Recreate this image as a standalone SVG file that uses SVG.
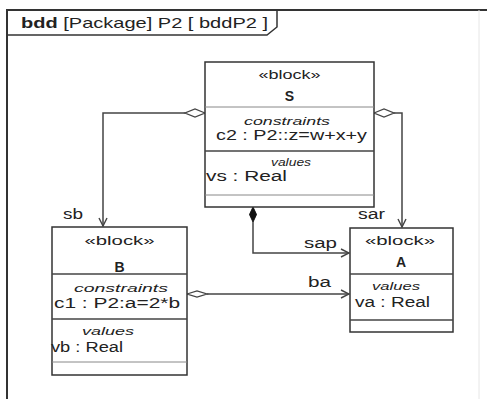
<svg xmlns="http://www.w3.org/2000/svg" width="487" height="399" viewBox="0 0 487 399">
<style>
text{font-family:"Liberation Sans",Arial,sans-serif;fill:#222}
.box{fill:#fff;stroke:#333;stroke-width:1.5}
.sep{stroke:#444;stroke-width:1.3}
.sep2{stroke:#888;stroke-width:1}
.st{font-size:13px;text-anchor:middle}
.nm{font-size:14px;font-weight:bold;text-anchor:middle}
.ct{font-size:11px;font-style:italic;text-anchor:middle}
.pr{font-size:14px}
.lbl{font-size:14px}
.con{fill:none;stroke:#444;stroke-width:1.5}
.hd{fill:#fff;stroke:#444;stroke-width:1.3}
</style>
<defs>
<marker id="open" markerWidth="10" markerHeight="10" refX="9" refY="5" orient="auto" markerUnits="userSpaceOnUse">
<path d="M1,1 L9,5 L1,9" fill="none" stroke="#444" stroke-width="1.4"/>
</marker>
</defs>
<rect width="487" height="399" fill="#fff"/>
<g id="frame">
<path d="M487,10 L7,10 L7,399" fill="none" stroke="#333" stroke-width="2"/>
<path d="M479,10 L479,399" fill="none" stroke="#e6e6e6" stroke-width="1"/>
<path d="M7,35 L267,35 L277,27 L277,10" fill="none" stroke="#333" stroke-width="1.5"/>
<text x="21" y="28" font-size="15" textLength="247" lengthAdjust="spacingAndGlyphs"><tspan font-weight="bold">bdd</tspan> [Package] P2 [ bddP2 ]</text>
</g>
<g id="connectors">
<path class="con" d="M185,113 L103,113 L103,226" marker-end="url(#open)"/>
<path class="con" d="M394,113 L402,113 L402,227" marker-end="url(#open)"/>
<path class="con" d="M253,222 L253,253 L349,253" marker-end="url(#open)"/>
<path class="con" d="M207,294 L349,294" marker-end="url(#open)"/>
<path class="hd" d="M205,113 L195,109 L185,113 L195,117 Z"/>
<path class="hd" d="M374,113 L384,109 L394,113 L384,117 Z"/>
<path class="hd" d="M187,294 L197,291 L207,294 L197,297 Z"/>
<path d="M253,207 L256.5,214.5 L253,222 L249.5,214.5 Z" fill="#111" stroke="#111" stroke-width="1"/>
<text class="lbl" x="63" y="219" textLength="20" lengthAdjust="spacingAndGlyphs">sb</text>
<text class="lbl" x="358" y="219" textLength="27" lengthAdjust="spacingAndGlyphs">sar</text>
<text class="lbl" x="304" y="248" textLength="33" lengthAdjust="spacingAndGlyphs">sap</text>
<text class="lbl" x="308" y="287" textLength="23" lengthAdjust="spacingAndGlyphs">ba</text>
</g>
<g id="S">
<rect class="box" x="205" y="62" width="169" height="145"/>
<line class="sep2" x1="205" y1="107" x2="374" y2="107"/>
<line class="sep" x1="205" y1="151" x2="374" y2="151"/>
<line class="sep2" x1="205" y1="195" x2="374" y2="195"/>
<text class="st" x="289.5" y="79" textLength="62" lengthAdjust="spacingAndGlyphs">«block»</text>
<text class="nm" x="289.5" y="101">S</text>
<text class="ct" x="287" y="125" textLength="86" lengthAdjust="spacingAndGlyphs">constraints</text>
<text class="pr" x="216" y="140" font-size="13" textLength="151" lengthAdjust="spacingAndGlyphs">c2 : P2::z=w+x+y</text>
<text class="ct" x="291" y="166" textLength="40" lengthAdjust="spacingAndGlyphs">values</text>
<text class="pr" x="206" y="181" textLength="81" lengthAdjust="spacingAndGlyphs">vs : Real</text>
</g>
<g id="B">
<rect class="box" x="52" y="227" width="135" height="148"/>
<line class="sep" x1="52" y1="274" x2="187" y2="274"/>
<line class="sep" x1="52" y1="319" x2="187" y2="319"/>
<line class="sep2" x1="52" y1="362" x2="187" y2="362"/>
<text class="st" x="119.5" y="245" textLength="70" lengthAdjust="spacingAndGlyphs">«block»</text>
<text class="nm" x="119.5" y="272">B</text>
<text class="ct" x="121" y="292" textLength="94" lengthAdjust="spacingAndGlyphs">constraints</text>
<text class="pr" x="54" y="308" textLength="126" lengthAdjust="spacingAndGlyphs">c1 : P2:a=2*b</text>
<text class="ct" x="108" y="335" textLength="52" lengthAdjust="spacingAndGlyphs">values</text>
<text class="pr" x="51" y="352" textLength="72" lengthAdjust="spacingAndGlyphs">vb : Real</text>
</g>
<g id="A">
<rect class="box" x="350" y="228" width="103" height="104"/>
<line class="sep" x1="350" y1="274" x2="453" y2="274"/>
<line class="sep" x1="350" y1="320" x2="453" y2="320"/>
<text class="st" x="400" y="245" textLength="70" lengthAdjust="spacingAndGlyphs">«block»</text>
<text class="nm" x="401" y="267">A</text>
<text class="ct" x="396" y="290" textLength="48" lengthAdjust="spacingAndGlyphs">values</text>
<text class="pr" x="355" y="307" textLength="75" lengthAdjust="spacingAndGlyphs">va : Real</text>
</g>
</svg>
